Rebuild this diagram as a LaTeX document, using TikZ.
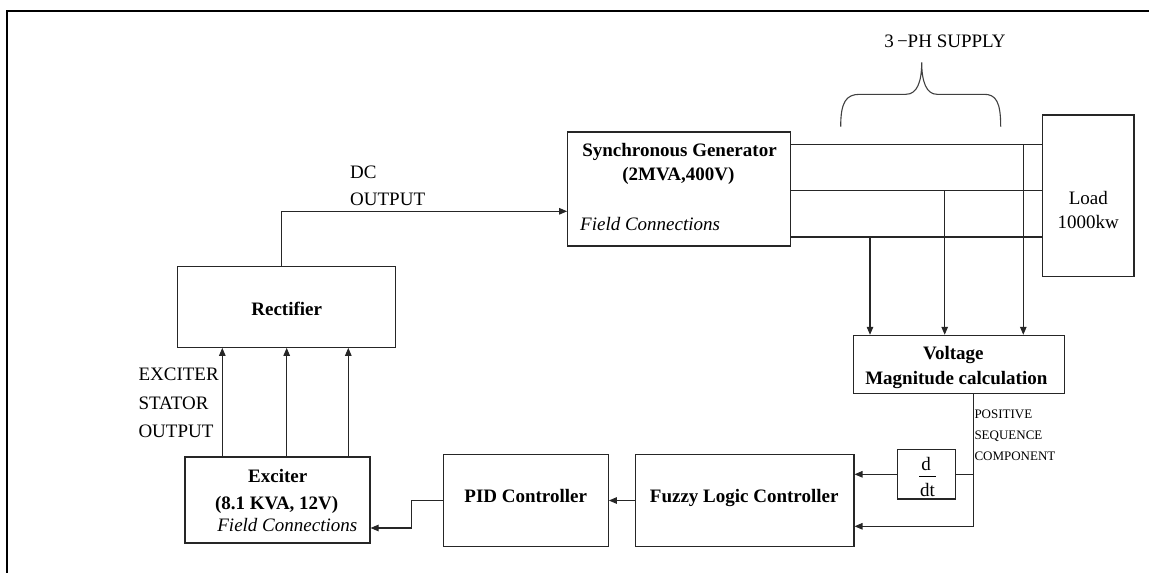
\documentclass[tikz,border=0pt]{standalone}
\usepackage{fontspec}
\setmainfont{Liberation Serif}
\usetikzlibrary{arrows.meta}
\begin{document}
\begin{tikzpicture}[x=1pt,y=-1pt,
  box/.style={draw=black!85,line width=1.1pt,inner sep=0pt},
  ln/.style={draw=black!85,line width=1.1pt},
  arr/.style={ln,-{Triangle[length=8pt,width=6.5pt]}},
  tb/.style={inner sep=0pt,anchor=base,font=\fontsize{19}{22}\selectfont\bfseries},
  tr/.style={inner sep=0pt,anchor=base,font=\fontsize{19}{22}\selectfont},
  trl/.style={inner sep=0pt,anchor=base west,font=\fontsize{19}{22}\selectfont},
  ti/.style={inner sep=0pt,anchor=base,font=\fontsize{19}{22}\selectfont\itshape},
  til/.style={inner sep=0pt,anchor=base west,font=\fontsize{19}{22}\selectfont\itshape},
  ts/.style={inner sep=0pt,anchor=base west,font=\fontsize{13}{15}\selectfont}]
\useasboundingbox (0,0) rectangle (1149,573);
% outer frame
\draw[line width=2pt] (6.7,573) -- (6.7,10.7) -- (1149,10.7);

% boxes
\node[box,minimum width=223pt,minimum height=114pt] (sg) at (679.2,189) {};
\node[box,minimum width=91.3pt,minimum height=161.7pt] (load) at (1088.3,195.8) {};
\node[box,minimum width=218pt,minimum height=80.6pt] (rect) at (286.7,307) {};
\node[box,minimum width=185pt,minimum height=86pt] (exc) at (277.5,500) {};
\node[box,minimum width=165pt,minimum height=91.6pt] (pid) at (525.8,500.5) {};
\node[box,minimum width=218.3pt,minimum height=91.6pt] (fuzzy) at (744.8,500.5) {};
\node[box,minimum width=211pt,minimum height=57.7pt] (vm) at (958.8,364.2) {};
\node[box,minimum width=58.3pt,minimum height=49.3pt] (ddt) at (926.2,474.3) {};

% texts in boxes
\node[tb] (sgt1) at (679.5,156.5) {Synchronous Generator};
\node[tb] (sgt2) at (678.3,180) {(2MVA,400V)};
\node[til] (sgt3) at (580,230) {Field Connections};
\node[tr] (ldt1) at (1088.3,204) {Load};
\node[tr] (ldt2) at (1088.3,228) {1000kw};
\node[tb] (rct) at (286.7,315) {Rectifier};
\node[tb] (ext1) at (277.7,482) {Exciter};
\node[tb] (ext2) at (276.7,509) {(8.1 KVA, 12V)};
\node[ti] (ext3) at (287.3,531) {Field Connections};
\node[tb] (pidt) at (525.7,502) {PID Controller};
\node[tb] (fzt) at (744.2,502) {Fuzzy Logic Controller};
\node[tb] (vmt1) at (953.3,359) {Voltage};
\node[tb] (vmt2) at (956.3,384) {Magnitude calculation};
\node[tr] (dd1) at (926.2,470) {d};
\node[tr] (dd2) at (927.5,496) {dt};
\draw[line width=0.9pt] (919.3,476.3) -- (935.7,476.3);

% free labels
\node[trl] (dc1) at (350,178) {DC};
\node[trl] (dc2) at (350,205) {OUTPUT};
\node[tr] (ph) at (945,47) {3\,−PH SUPPLY};
\node[trl] (es1) at (138.3,380) {EXCITER};
\node[trl] (es2) at (138.3,409) {STATOR};
\node[trl] (es3) at (138.3,437) {OUTPUT};
\node[ts] (ps1) at (974.3,418.5) {POSITIVE};
\node[ts] (ps2) at (974.3,439) {SEQUENCE};
\node[ts] (ps3) at (974.3,460) {COMPONENT};

% brace
\draw[draw=black!75,line width=1.1pt] (840.7,126.7) .. controls (840.7,102) and (846,94.3) .. (860,94.3)
  -- (906,94.3) .. controls (917,94.3) and (921.7,82) .. (921.7,62.3)
  .. controls (921.7,82) and (926.5,94.3) .. (937,94.3)
  -- (984,94.3) .. controls (996,94.3) and (1000.7,102) .. (1000.7,126.7);

% DC output
\draw[arr] ([xshift=-5pt]rect.north) |- ([yshift=-22.3pt]sg.west);

% three-phase lines
\coordinate (p1) at ([yshift=44.3pt]sg.east);
\coordinate (p2) at ([yshift=-1.3pt]sg.east);
\coordinate (p3) at ([yshift=-48pt]sg.east);
\draw[ln] (p1) -- (p1 -| load.west);
\draw[ln] (p2) -- (p2 -| load.west);
\draw[ln] (p3) -- (p3 -| load.west);
\coordinate (t1) at (1023.3,144.7);
\coordinate (t2) at (944.7,190.3);
\coordinate (t3) at (870,237);
\draw[arr] (t1) -- (t1 |- vm.north);
\draw[arr] (t2) -- (t2 |- vm.north);
\draw[arr] (t3) -- (t3 |- vm.north);

% feedback
\draw[arr] ([xshift=14.5pt]vm.south) |- ([yshift=-25.8pt]fuzzy.east);
\coordinate (jb) at (973.3,474.3);
\draw[ln] (jb) -- (ddt.east);
\draw[arr] (ddt.west) -- (ddt.west -| fuzzy.east);
\draw[arr] (fuzzy.west) -- (pid.east);
\draw[arr] (pid.west) -- ++(-31,0) |- ([yshift=-28pt]exc.east);

% exciter to rectifier
\coordinate (e1) at ([xshift=-55.2pt]exc.north);
\coordinate (e2) at ([xshift=9.2pt]exc.north);
\coordinate (e3) at ([xshift=70.8pt]exc.north);
\draw[arr] (e1) -- (e1 |- rect.south);
\draw[arr] (e2) -- (e2 |- rect.south);
\draw[arr] (e3) -- (e3 |- rect.south);
\end{tikzpicture}
\end{document}
